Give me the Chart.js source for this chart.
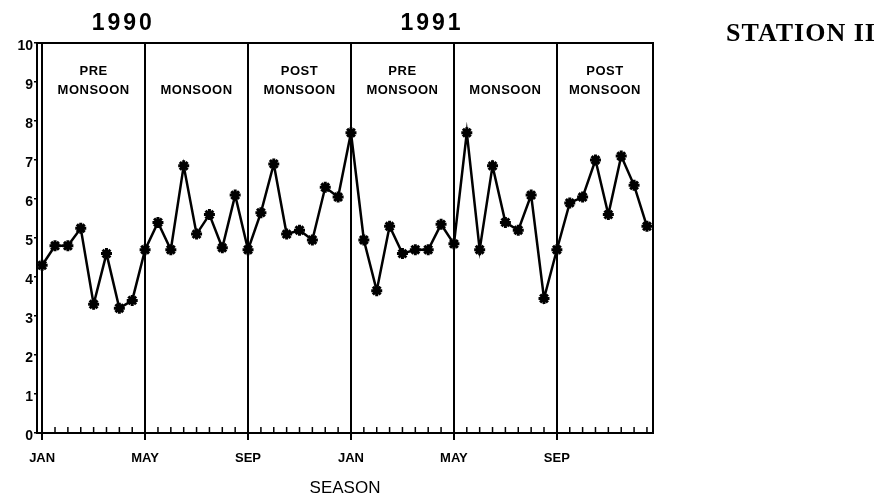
<!DOCTYPE html>
<html>
<head>
<meta charset="utf-8">
<script src="https://cdn.jsdelivr.net/npm/chart.js@4.4.1/dist/chart.umd.min.js"></script>
<style>
    html, body { margin: 0; padding: 0; background: #fff; }
    #wrap { width: 882px; height: 502px; }
</style>
</head>
<body>
<div id="wrap"><canvas id="seasonChart" width="882" height="502"></canvas></div>
<script>
// Fortnightly readings, Jan 1990 - Dec 1991 (two per month)
const values = [
    4.3, 4.8, 4.8, 5.25, 3.3, 4.6, 3.2, 3.4,
    4.7, 5.4, 4.7, 6.85, 5.1, 5.6, 4.75, 6.1,
    4.7, 5.65, 6.9, 5.1, 5.2, 4.95, 6.3, 6.05,
    7.7, 4.95, 3.65, 5.3, 4.6, 4.7, 4.7, 5.35,
    4.85, 7.7, 4.7, 6.85, 5.4, 5.2, 6.1, 3.45,
    4.7, 5.9, 6.05, 7.0, 5.6, 7.1, 6.35, 5.3
];
const monthLabels = ["JAN", "MAY", "SEP", "JAN", "MAY", "SEP"];
const seasonLabels = [
    ["PRE", "MONSOON"], ["MONSOON"], ["POST", "MONSOON"],
    ["PRE", "MONSOON"], ["MONSOON"], ["POST", "MONSOON"]
];
const years = ["1990", "1991"];
const yTicks = [0, 1, 2, 3, 4, 5, 6, 7, 8, 9, 10];

const perSeason = 8;
const perYear = 24;
const points = values.map((v, i) => ({ x: i, y: v }));

// Frame, inner ticks and the text above the plot
const decorations = {
    id: "decorations",
    afterDatasetsDraw(chart) {
        const { ctx, chartArea, scales } = chart;
        const x = scales.x;
        ctx.save();
        ctx.strokeStyle = "#000";
        ctx.lineWidth = 2;
        ctx.beginPath();
        ctx.moveTo(chartArea.left, chartArea.top);
        ctx.lineTo(chartArea.right, chartArea.top);
        ctx.lineTo(chartArea.right, chartArea.bottom);
        ctx.stroke();

        // small ticks pointing up from the baseline
        ctx.lineWidth = 1.5;
        values.forEach((v, i) => {
            if (i % perSeason === 0) return;
            const px = x.getPixelForValue(i);
            ctx.beginPath();
            ctx.moveTo(px, chartArea.bottom);
            ctx.lineTo(px, chartArea.bottom - 6);
            ctx.stroke();
        });

        // season names inside each block
        ctx.fillStyle = "#000";
        ctx.textAlign = "center";
        ctx.textBaseline = "middle";
        ctx.font = "bold 13px 'Liberation Sans'";
        ctx.letterSpacing = "0.5px";
        seasonLabels.forEach((lines, s) => {
            const left = x.getPixelForValue(s * perSeason);
            const right = s === seasonLabels.length - 1 ? chartArea.right : x.getPixelForValue((s + 1) * perSeason);
            const cx = (left + right) / 2;
            const first = lines.length === 2 ? 71 : 90;
            lines.forEach((t, k) => ctx.fillText(t, cx, first + k * 19));
        });

        // year headings
        ctx.font = "bold 23px 'Liberation Sans'";
        ctx.letterSpacing = "3px";
        years.forEach((yr, k) => {
            ctx.fillText(yr, x.getPixelForValue(k * perYear + 6.3), 24);
        });

        ctx.letterSpacing = "1px";
        ctx.font = "bold 26px 'Liberation Serif'";
        ctx.fillText("STATION II", 801, 34);
        ctx.restore();
    }
};

new Chart(document.getElementById("seasonChart"), {
    type: "line",
    data: {
        datasets: [{
            data: points,
            borderColor: "#000",
            borderWidth: 2.5,
            tension: 0,
            pointStyle: "star",
            pointRadius: 5.5,
            pointBorderWidth: 3,
            pointBorderColor: "#000",
            pointBackgroundColor: "#000",
            clip: false
        }]
    },
    options: {
        responsive: false,
        animation: false,
        layout: { padding: { top: 43, right: 229, left: 0, bottom: 0 } },
        plugins: {
            legend: { display: false },
            tooltip: { enabled: false }
        },
        scales: {
            x: {
                type: "linear",
                min: -0.4,
                max: 47.47,
                afterBuildTicks: scale => {
                    scale.ticks = values.map((v, i) => ({ value: i }));
                },
                afterFit: scale => { scale.height = 69; },
                ticks: {
                    autoSkip: false,
                    maxRotation: 0,
                    padding: 11,
                    color: "#000",
                    font: { family: "'Liberation Sans'", size: 13, weight: "bold" },
                    callback: v => (v % perSeason === 0 ? monthLabels[v / perSeason] : "")
                },
                grid: {
                    color: ctx => (ctx.tick && ctx.tick.value % perSeason === 0 ? "#000" : "rgba(0,0,0,0)"),
                    lineWidth: 2,
                    tickLength: 7
                },
                border: { display: true, color: "#000", width: 2 },
                title: {
                    display: true,
                    text: "SEASON",
                    color: "#000",
                    font: { family: "'Liberation Sans'", size: 17 },
                    padding: { top: 0, bottom: 3 }
                }
            },
            y: {
                min: 0,
                max: 10,
                afterBuildTicks: scale => {
                    scale.ticks = yTicks.map(v => ({ value: v }));
                },
                afterFit: scale => { scale.width = 37; },
                ticks: {
                    padding: 1,
                    labelOffset: 3,
                    color: "#000",
                    font: { family: "'Liberation Sans'", size: 14, weight: "bold" }
                },
                grid: {
                    drawOnChartArea: false,
                    color: "#000",
                    tickLength: 3,
                    lineWidth: 1.5
                },
                border: { display: true, color: "#000", width: 2 }
            }
        }
    },
    plugins: [decorations]
});
</script>
</body>
</html>
